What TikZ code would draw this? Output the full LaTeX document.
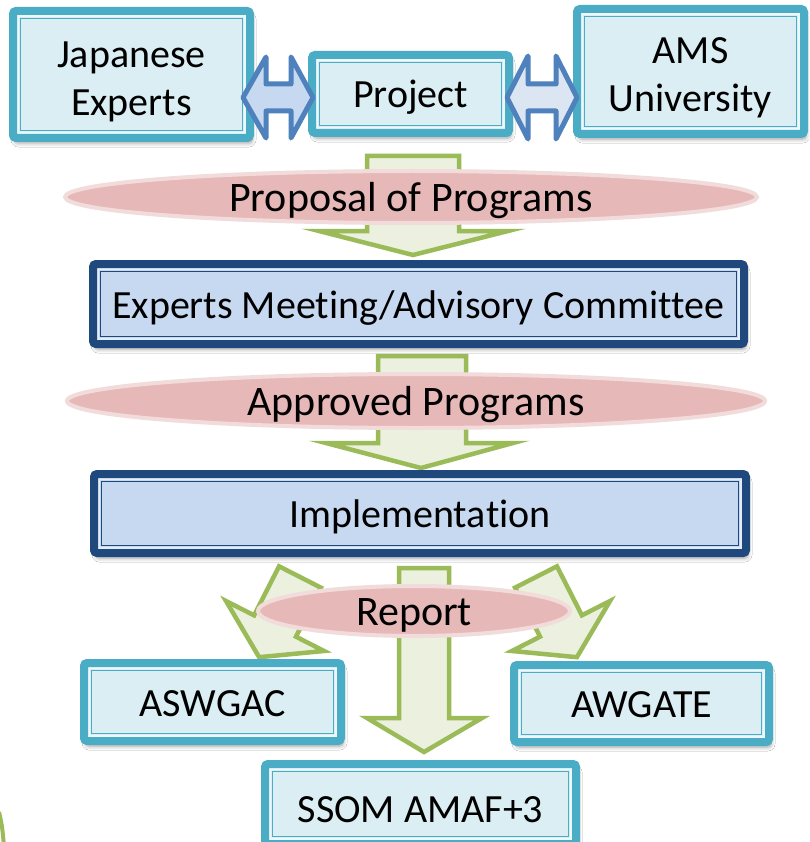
\documentclass[tikz,border=0pt]{standalone}
\usepackage{fontspec}
\setmainfont{Carlito}[Ligatures=NoCommon]
\usetikzlibrary{shapes.geometric,shadows.blur}
\definecolor{tealB}{HTML}{4BACC6}
\definecolor{tealF}{HTML}{DAEEF3}
\definecolor{tealL}{HTML}{EEF8FA}
\definecolor{navyB}{HTML}{1F497D}
\definecolor{navyF}{HTML}{C6D9F1}
\definecolor{navyL}{HTML}{E4ECF7}
\definecolor{grnB}{HTML}{9BBB59}
\definecolor{grnF}{HTML}{EBF1DE}
\definecolor{pinkF}{HTML}{E6B9B8}
\definecolor{pinkB}{HTML}{F2DCDB}
\definecolor{arrB}{HTML}{4F81BD}
\definecolor{arrFa}{HTML}{C6D9F1}
\definecolor{arrFb}{HTML}{DCE6F2}
\newcommand\innerlines[2]{%
  \draw[#1, line width=2.2pt, sharp corners] ([shift={(5pt,-5pt)}]path picture bounding box.north west) rectangle ([shift={(-5pt,5pt)}]path picture bounding box.south east);
  \draw[#2, line width=1.6pt, sharp corners] ([shift={(7.4pt,-7.4pt)}]path picture bounding box.north west) rectangle ([shift={(-7.4pt,7.4pt)}]path picture bounding box.south east);}
\begin{document}
\begin{tikzpicture}[x=1pt,y=-1pt,
  txt/.style={font=\fontsize{40}{48}\selectfont, text=black},
  boxbase/.style={rectangle, rounded corners=3pt, line width=8pt, inner sep=0pt, txt, align=center,
    blur shadow={shadow xshift=2pt, shadow yshift=-5pt, shadow blur radius=4pt, shadow opacity=40}},
  tealbox/.style={boxbase, draw=tealB, fill=tealF, path picture={\innerlines{tealL}{tealB}}},
  navybox/.style={boxbase, draw=navyB, fill=navyF, path picture={\innerlines{navyL}{navyB}}},
  oneline/.style={text height=28pt, text depth=0pt},
  pinkell/.style={ellipse, draw=pinkB, fill=pinkF, line width=4pt, inner sep=0pt,
    font=\fontsize{42}{50}\selectfont, text=black, text height=29pt, text depth=0pt},
  garrow/.style={draw=grnB, fill=grnF, line width=4.5pt, line join=miter},
  darrow/.style={draw=arrB, line width=5pt, line join=round},
]
\useasboundingbox (0,0) rectangle (809,842);
\fill[white] (0,0) rectangle (809,842);
% corner decoration
\draw[grnB, line width=4pt] (-1,812) .. controls (2,825) .. (4,846);
% green block arrows
\draw[garrow] (367,156) -- (459,156) -- (459,231) -- (508,231) -- (413,255) -- (319,231) -- (367,231) -- cycle;
\draw[garrow] (378,356) -- (466,356) -- (466,443) -- (513,443) -- (421,468) -- (326,443) -- (378,443) -- cycle;
\draw[garrow] (399,568) -- (449,568) -- (449,718) -- (482,718) -- (424,752) -- (367,718) -- (399,718) -- cycle;
\begin{scope}[shift={(300,577)}, rotate=-27]
\draw[garrow] (-23.5,0) -- (23.5,0) -- (23.5,55) -- (55,55) -- (0,90) -- (-55,55) -- (-23.5,55) -- cycle;
\end{scope}
\begin{scope}[shift={(536,577)}, rotate=27]
\draw[garrow] (-23.5,0) -- (23.5,0) -- (23.5,55) -- (55,55) -- (0,90) -- (-55,55) -- (-23.5,55) -- cycle;
\end{scope}
% ellipses
\node[pinkell, minimum width=692pt, minimum height=52pt] (e1) at (411,197) {Proposal of Programs};
\node[pinkell, minimum width=698pt, minimum height=54pt] (e2) at (416,401) {Approved Programs};
\node[pinkell, minimum width=312pt, minimum height=50pt] (e3) at (414,611) {Report};
% boxes
\node[tealbox, minimum width=237pt, minimum height=127pt] (jp) at (131.5,74.5) {\rule{0pt}{41pt}Japanese\\Experts};
\node[tealbox, oneline, minimum width=197pt, minimum height=78pt] (proj) at (410.5,94) {Project};
\node[tealbox, minimum width=227pt, minimum height=125pt] (ams) at (690.5,71.5) {\rule{0pt}{39pt}AMS\\University};
\node[navybox, oneline, minimum width=651pt, minimum height=80pt] (emac) at (418.5,304) {Experts Meeting/Advisory Commit\kern0pt tee};
\node[navybox, oneline, minimum width=652pt, minimum height=79pt] (impl) at (420,513.5) {Implementa\kern0pt tion};
\node[tealbox, oneline, minimum width=257pt, minimum height=78pt] (asw) at (212.5,702) {ASWGAC};
\node[tealbox, oneline, minimum width=255pt, minimum height=77pt] (awg) at (641.5,703.5) {AWGATE};
\node[tealbox, oneline, text height=36pt, minimum width=311pt, minimum height=80pt] (ssom) at (420.5,804) {SSOM AMAF+3};
% double arrows
\draw[darrow, fill=arrFa] (243,97.5) -- (266,57) -- (266,84) -- (291,84) -- (291,57) -- (313,97.5) -- (291,138) -- (291,111) -- (266,111) -- (266,138) -- cycle;
\draw[darrow, fill=arrFb] (507,97.5) -- (528,56) -- (528,84) -- (556,84) -- (556,56) -- (577,97.5) -- (556,139) -- (556,111) -- (528,111) -- (528,139) -- cycle;
\end{tikzpicture}
\end{document}
